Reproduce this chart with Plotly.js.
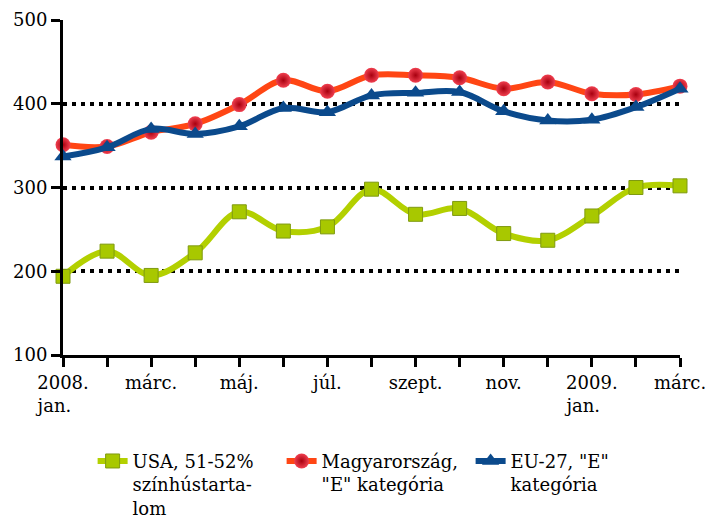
<!DOCTYPE html>
<html>
<head>
<meta charset="utf-8">
<script src="https://cdn.plot.ly/plotly-3.0.1.min.js"></script>
<style>
html,body{margin:0;padding:0;background:#fff;}
#chart{width:705px;height:529px;}
</style>
</head>
<body>
<div id="chart"></div>
<script>
// Categories (months 2008 jan – 2009 márc)
const months = ['2008. jan.', '2008. febr.', '2008. márc.', '2008. ápr.', '2008. máj.', '2008. jún.', '2008. júl.', '2008. aug.', '2008. szept.', '2008. okt.', '2008. nov.', '2008. dec.', '2009. jan.', '2009. febr.', '2009. márc.'];
const tickLabels = ['2008.<br>jan.\u00a0\u00a0\u00a0', '', 'márc.', '', 'máj.', '', 'júl.', '', 'szept.', '', 'nov.', '', '2009.<br>jan.\u00a0\u00a0\u00a0', '', 'márc.'];

// Series values
const usa = [194, 224, 195, 222, 271, 248, 253, 298, 268, 275, 245, 237, 266, 300, 302];
const magyar = [351, 349, 366, 376, 399, 428, 415, 434, 434, 431, 418, 426, 412, 411, 421];
const eu27 = [337, 348, 370, 364, 373, 395, 390, 410, 413, 414, 391, 380, 381, 396, 418];

const seriesNames = ['USA, 51-52%<br>színhústarta-<br>lom', 'Magyarország,<br>"E" kategória', 'EU-27, "E"<br>kategória'];

const traces = [
  {
    x: months, y: usa, name: seriesNames[0], type: 'scatter', mode: 'lines+markers',
    line: {color: '#b3d000', width: 6, shape: 'spline', smoothing: 1},
    marker: {symbol: 'square', size: 14, color: '#a8c800', line: {color: '#7f9a10', width: 1}},
    cliponaxis: false
  },
  {
    x: months, y: magyar, name: seriesNames[1], type: 'scatter', mode: 'lines+markers',
    line: {color: '#ff4614', width: 6, shape: 'spline', smoothing: 1},
    marker: {symbol: 'circle', size: 15, color: '#f04050', gradient: {type: 'radial', color: '#a8000f'}, line: {width: 0}},
    cliponaxis: false
  },
  {
    x: months, y: eu27, name: seriesNames[2], type: 'scatter', mode: 'lines+markers',
    line: {color: '#0b4a8c', width: 6, shape: 'spline', smoothing: 1},
    marker: {symbol: 'triangle-up', size: 15, color: '#0b4a8c', line: {width: 0}},
    cliponaxis: false
  }
];

const fam = 'DejaVu Serif';
const font = {family: fam, size: 18, color: '#000'};

const layout = {
  width: 705, height: 529,
  margin: {l: 63, r: 25, t: 20, b: 174, autoexpand: false},
  paper_bgcolor: '#fff', plot_bgcolor: '#fff',
  font: font,
  showlegend: true,
  legend: {
    orientation: 'h', x: 0.048, xanchor: 'left', y: -0.262, yanchor: 'top',
    font: {family: fam, size: 18, color: '#000'},
    traceorder: 'normal', valign: 'top', entrywidth: 144, entrywidthmode: 'pixels',
    bgcolor: 'rgba(0,0,0,0)'
  },
  xaxis: {
    type: 'category',
    range: [0, 14],
    tickmode: 'array', tickvals: months, ticktext: tickLabels,
    ticks: 'outside', ticklen: 9, tickwidth: 3, tickcolor: '#000',
    showline: true, linecolor: '#000', linewidth: 3,
    showgrid: false, zeroline: false,
    tickangle: 0, tickfont: font
  },
  yaxis: {
    range: [100, 500], dtick: 100, tick0: 100,
    ticks: 'outside', ticklen: 9, tickwidth: 3, tickcolor: '#000',
    showline: true, linecolor: '#000', linewidth: 3,
    showgrid: true, gridcolor: '#000', gridwidth: 4, griddash: '4px,5px',
    zeroline: false, tickfont: font
  }
};

Plotly.newPlot('chart', traces, layout, {displayModeBar: false, staticPlot: true});
</script>
</body>
</html>
